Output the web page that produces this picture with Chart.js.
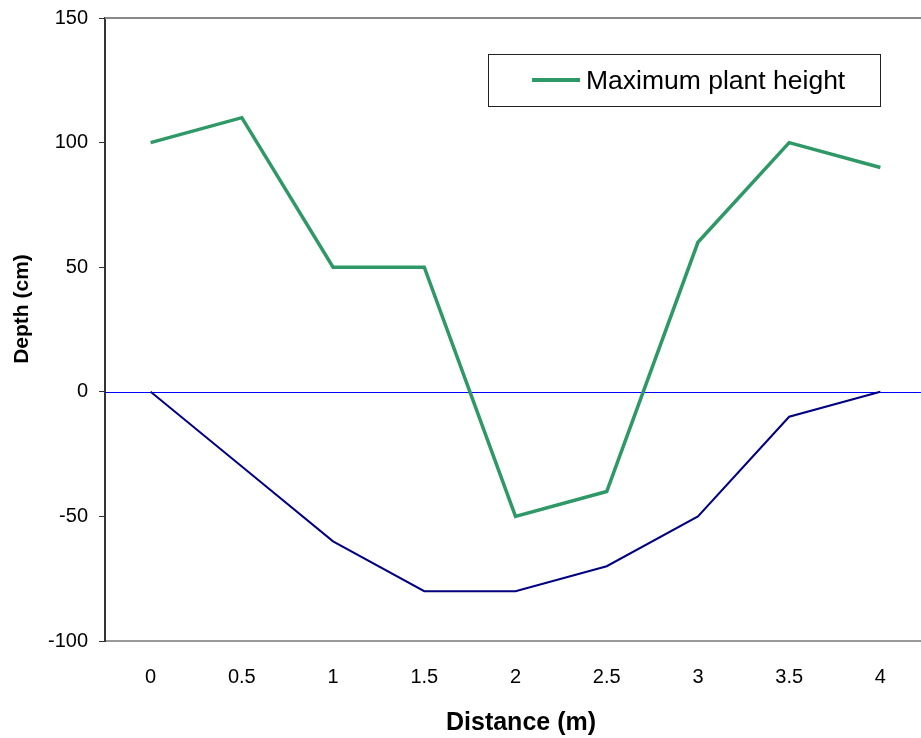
<!DOCTYPE html>
<html>
<head>
<meta charset="utf-8">
<script src="https://cdn.jsdelivr.net/npm/chart.js@4"></script>
<style>
  html, body { margin: 0; padding: 0; background: #fff; overflow: hidden; }
  #wrap { width: 926px; height: 738px; }
</style>
</head>
<body>
<div id="wrap"><canvas id="lineChart"></canvas></div>
<script>
const distances = ['0', '0.5', '1', '1.5', '2', '2.5', '3', '3.5', '4'];
const plantHeight = [100, 110, 50, 50, -50, -40, 60, 100, 90];
const depthProfile = [0, -30, -60, -80, -80, -70, -50, -10, 0];
const yTicks = [-100, -50, 0, 50, 100, 150];
const xTitle = 'Distance (m)';
const yTitle = 'Depth (cm)';

const FONT = '"Liberation Sans", Arial, sans-serif';
Chart.defaults.font.family = FONT;
Chart.defaults.color = '#000';

// zero line, axis titles, grey top frame line and the boxed legend
const extras = {
    id: 'extras',
    beforeDatasetsDraw(chart) {
        const ctx = chart.ctx;
        const area = chart.chartArea;
        const y0 = Math.round(chart.scales.y.getPixelForValue(0)) + 0.5;
        ctx.save();
        ctx.strokeStyle = '#0000ff';
        ctx.lineWidth = 1.2;
        ctx.beginPath();
        ctx.moveTo(area.left, y0);
        ctx.lineTo(area.right, y0);
        ctx.stroke();
        ctx.restore();
    },
    afterDraw(chart) {
        const ctx = chart.ctx;
        const area = chart.chartArea;
        ctx.save();
        ctx.strokeStyle = '#888';
        ctx.lineWidth = 2;
        ctx.beginPath();
        ctx.moveTo(area.left, area.top);
        ctx.lineTo(area.right, area.top);
        ctx.stroke();

        ctx.fillStyle = '#000';
        ctx.textAlign = 'center';
        ctx.textBaseline = 'middle';
        ctx.font = 'bold 25px ' + FONT;
        ctx.fillText(xTitle, 521, 723);
        ctx.save();
        ctx.translate(22, 309);
        ctx.rotate(-Math.PI / 2);
        ctx.font = 'bold 21px ' + FONT;
        ctx.fillText(yTitle, 0, 0);
        ctx.restore();

        const ds = chart.data.datasets[0];
        const x = 488.5, y = 54.5, w = 392, h = 52;
        ctx.fillStyle = '#fff';
        ctx.fillRect(x, y, w, h);
        ctx.strokeStyle = '#222';
        ctx.lineWidth = 1;
        ctx.strokeRect(x, y, w, h);
        ctx.strokeStyle = ds.borderColor;
        ctx.lineWidth = 4;
        ctx.beginPath();
        ctx.moveTo(532, 80);
        ctx.lineTo(580, 80);
        ctx.stroke();
        ctx.fillStyle = '#000';
        ctx.textAlign = 'left';
        ctx.font = '26.5px ' + FONT;
        ctx.fillText(ds.label, 586, 82);
        ctx.restore();
    }
};

new Chart(document.getElementById('lineChart'), {
    type: 'line',
    data: {
        labels: distances,
        datasets: [
            {
                label: 'Maximum plant height',
                data: plantHeight,
                borderColor: '#2e9966',
                borderWidth: 3.5,
                pointRadius: 0,
                tension: 0
            },
            {
                label: 'Depth',
                data: depthProfile,
                borderColor: '#000080',
                borderWidth: 2,
                pointRadius: 0,
                tension: 0
            }
        ]
    },
    options: {
        responsive: true,
        maintainAspectRatio: false,
        animation: false,
        layout: { padding: { top: 18, right: 0, left: 0, bottom: 0 } },
        plugins: {
            legend: { display: false },
            tooltip: { enabled: false }
        },
        scales: {
            x: {
                offset: true,
                grid: { display: false, drawTicks: false },
                border: { display: true, color: '#999', width: 2 },
                ticks: { font: { size: 20 }, padding: 24, maxRotation: 0 },
                afterFit(scale) { scale.height = 97; }
            },
            y: {
                min: -100,
                max: 150,
                afterBuildTicks(scale) { scale.ticks = yTicks.map(v => ({ value: v })); },
                grid: {
                    drawOnChartArea: false,
                    drawTicks: true,
                    tickLength: 6,
                    tickColor: '#333'
                },
                border: { display: true, color: '#333', width: 2 },
                ticks: { font: { size: 20 }, padding: 11 },
                afterFit(scale) {
                    scale.width = 105;
                    scale.paddingTop = 0;
                    scale.paddingBottom = 0;
                }
            }
        }
    },
    plugins: [extras]
});
</script>
</body>
</html>
